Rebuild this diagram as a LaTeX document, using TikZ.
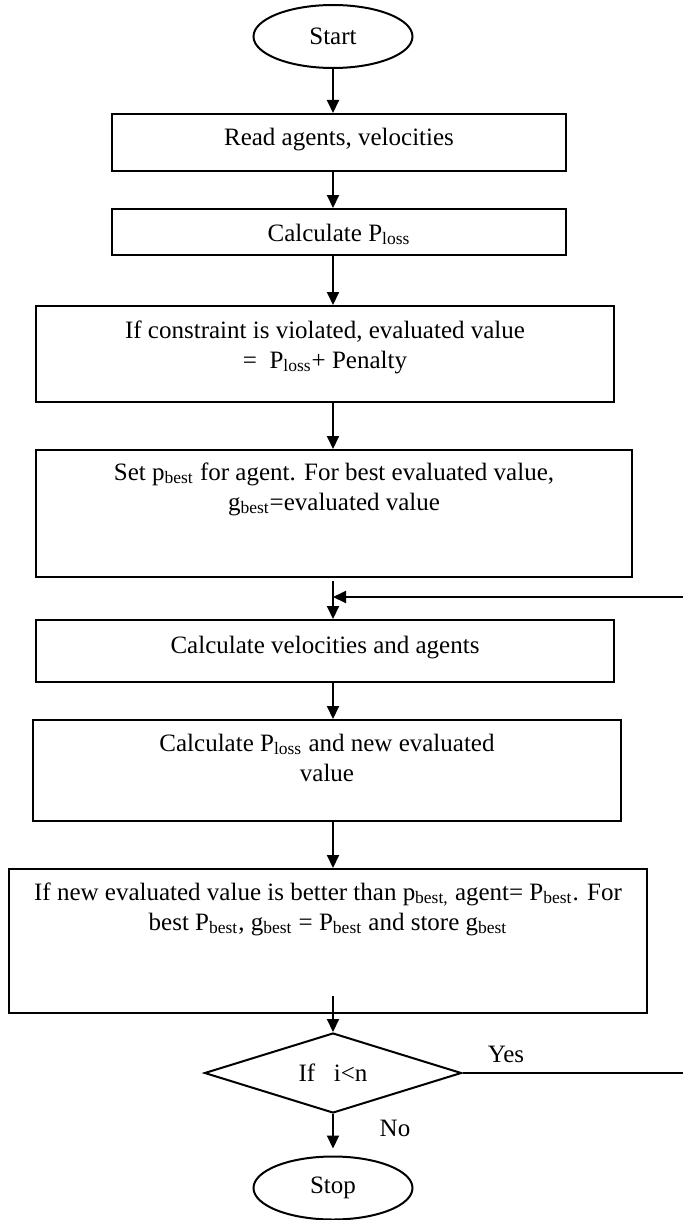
\documentclass[tikz,border=0pt]{standalone}
\usepackage{fontspec}
\setmainfont{Liberation Serif}
\usetikzlibrary{arrows.meta,positioning,shapes.geometric,calc}

\tikzset{
  box/.style={draw, inner sep=0pt, anchor=north, align=center},
  term/.style={draw, ellipse, inner sep=0pt, minimum width=79.5pt, minimum height=31.5pt},
}

\begin{document}
\begin{tikzpicture}[x=0.5pt, y=-0.5pt, >={Triangle[length=6.5pt,width=6pt]}, line width=1pt,
    font=\fontsize{12.5pt}{15pt}\selectfont]
  \useasboundingbox (0,0) rectangle (683,1220);

  % Define coordinates for nodes
  \node[term] (start) at (333,36.5) {Start};
  \node[box, minimum width=227pt, text height=16pt, text depth=12.5pt] (read) at (339,113) {Read agents, velocities};
  \node[box, minimum width=227pt, text height=16pt, text depth=7pt] (calc) at (339,208) {Calculate P\textsubscript{loss}};
  \node[box, minimum width=289pt, text height=31pt, text depth=17pt] (check) at (325,305)
    {If constraint is violated, evaluated value\\ =~~P\textsubscript{loss}+ Penalty};
  \node[box, minimum width=298pt, text height=30pt, text depth=33.5pt] (pbest) at (334,449)
    {Set p\textsubscript{best} for agent. For best evaluated value,\\ g\textsubscript{best}=evaluated value};
  \node[box, minimum width=289pt, text height=16.5pt, text depth=14.5pt] (update) at (325,619) {Calculate velocities and agents};
  \node[box, minimum width=294pt, text height=30.5pt, text depth=20pt] (eval) at (327,719)
    {Calculate P\textsubscript{loss} and new evaluated\\ value};
  \node[box, minimum width=319pt, text height=30.5pt, text depth=41.5pt] (compare) at (328,868)
    {If new evaluated value is better than p\textsubscript{best,} agent= P\textsubscript{best}. For\\
     best P\textsubscript{best}, g\textsubscript{best} = P\textsubscript{best} and store g\textsubscript{best}};
  \node[draw, diamond, aspect=3.2, inner sep=0pt, minimum width=128.5pt, minimum height=40pt] (test) at (333,1073) {If~~~i<n};
  \node[term] (stop) at (333,1188) {Stop};
  \node (yes) at (506,1054) {Yes};
  \node (no) at (395,1128) {No};
  \coordinate (loop) at (688,1073);
  \coordinate (rejoin) at (333,597);

  % Draw arrows between nodes
  \draw[->] (start) -- (read.north -| start);
  \draw[->] (read.south -| start) -- (calc.north -| start);
  \draw[->] (calc.south -| start) -- (check.north -| start);
  \draw[->] (check.south -| start) -- (pbest.north -| start);
  \draw[->] ($(pbest.south -| start)+(0,3)$) -- (update.north -| start);
  \draw[->] (update.south -| start) -- (eval.north -| start);
  \draw[->] (eval.south -| start) -- (compare.north -| start);
  \draw[->] ($(compare.south -| start)+(0,-18)$) -- (test);
  \draw[->, shorten >=3.5pt] (test) -- (stop);
  \draw[->] (test.east) -- (loop) |- (rejoin);
\end{tikzpicture}
\end{document}
